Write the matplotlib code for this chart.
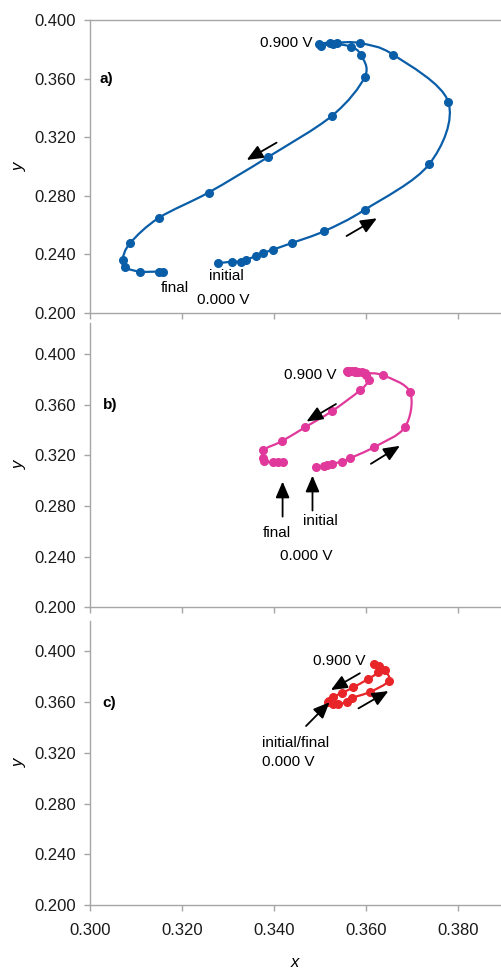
import numpy as np
import matplotlib
matplotlib.use("Agg")
import matplotlib.pyplot as plt
from matplotlib.path import Path
from matplotlib.patches import PathPatch

plt.rcParams['font.family'] = ['Liberation Sans', 'DejaVu Sans']

# ---------------- data ----------------
# panel a) (blue): forward scan then reverse scan
a_x = [0.3278, 0.3309, 0.3328, 0.3339, 0.3360, 0.3376, 0.3397, 0.3438, 0.3509, 0.3597,
       0.3737, 0.3778, 0.3659, 0.3586, 0.3536, 0.3520, 0.3498,
       0.3501, 0.3527, 0.3566, 0.3588, 0.3597, 0.3526, 0.3386, 0.3257, 0.3149,
       0.3087, 0.3070, 0.3076, 0.3108, 0.3149, 0.3159]
a_y = [0.2338, 0.2349, 0.2349, 0.2363, 0.2386, 0.2408, 0.2431, 0.2476, 0.2558, 0.2704,
       0.3016, 0.3442, 0.3762, 0.3842, 0.3846, 0.3846, 0.3837,
       0.3823, 0.3837, 0.3818, 0.3762, 0.3613, 0.3347, 0.3063, 0.2821, 0.2648,
       0.2477, 0.2363, 0.2309, 0.2281, 0.2281, 0.2281]

# panel b) (magenta)
b_x = [0.3490, 0.3507, 0.3515, 0.3525, 0.3547, 0.3565, 0.3617, 0.3684, 0.3695, 0.3637,
       0.3597, 0.3582, 0.3575, 0.3568, 0.3563, 0.3557,
       0.3560, 0.3575, 0.3590, 0.3600, 0.3606, 0.3586, 0.3525, 0.3467, 0.3416,
       0.3376, 0.3376, 0.3378, 0.3398, 0.3409, 0.3418]
b_y = [0.3107, 0.3117, 0.3125, 0.3133, 0.3151, 0.3178, 0.3265, 0.3423, 0.3700, 0.3831,
       0.3850, 0.3855, 0.3862, 0.3862, 0.3862, 0.3862,
       0.3858, 0.3860, 0.3855, 0.3835, 0.3795, 0.3712, 0.3548, 0.3422, 0.3311,
       0.3242, 0.3179, 0.3153, 0.3145, 0.3145, 0.3145]

# panel c) (red)
c_x = [0.3517, 0.3528, 0.3538, 0.3557, 0.3569, 0.3608, 0.3649, 0.3640, 0.3628, 0.3617,
       0.3625, 0.3604, 0.3571, 0.3547, 0.3528, 0.3519]
c_y = [0.3597, 0.3584, 0.3580, 0.3599, 0.3631, 0.3678, 0.3765, 0.3851, 0.3883, 0.3895,
       0.3835, 0.3780, 0.3713, 0.3670, 0.3639, 0.3607]

x_ticks = [0.300, 0.320, 0.340, 0.360, 0.380]
y_ticks = [0.200, 0.240, 0.280, 0.320, 0.360, 0.400]

colors = ['#0a5ea8', '#e0399b', '#e8262a']
AX_GRAY = '#a6a6a6'


def smooth_path(x, y, t=0.5):
    """Catmull-Rom style smoothing drawn as cubic Bezier segments by matplotlib."""
    p = np.column_stack([x, y])
    n = len(p)
    verts = [p[0]]
    codes = [Path.MOVETO]
    for i in range(n - 1):
        p0 = p[i - 1] if i > 0 else p[i]
        p1 = p[i]
        p2 = p[i + 1]
        p3 = p[i + 2] if i + 2 < n else p[i + 1]
        c1 = p1 + (p2 - p0) * t / 3.0
        c2 = p2 - (p3 - p1) * t / 3.0
        verts += [c1, c2, p2]
        codes += [Path.CURVE4] * 3
    return Path(verts, codes)


fig = plt.figure(figsize=(5.02, 9.72), dpi=100)
rects = [
    [0.1799, 0.6783, 0.8201, 0.3011],
    [0.1799, 0.37521, 0.8201, 0.29249],
    [0.1799, 0.06862, 0.8201, 0.29249],
]
ylims = [(0.200, 0.400), (0.200, 0.4245), (0.200, 0.4236)]
series = [(a_x, a_y), (b_x, b_y), (c_x, c_y)]
axes = []
for i in range(3):
    ax = fig.add_axes(rects[i])
    axes.append(ax)
    x, y = series[i]
    ax.add_patch(PathPatch(smooth_path(x, y), facecolor='none', edgecolor=colors[i],
                           lw=1.6, zorder=2))
    ax.plot(x, y, 'o', color=colors[i], ms=5.5, zorder=3)
    ax.set_xlim(0.300, 0.3895)
    ax.set_ylim(*ylims[i])
    ax.set_xticks(x_ticks)
    ax.set_yticks(y_ticks)
    ax.set_yticklabels([f'{v:.3f}' for v in y_ticks])
    if i == 2:
        ax.set_xticklabels([f'{v:.3f}' for v in x_ticks])
    else:
        ax.set_xticklabels([])
    ax.spines['right'].set_visible(False)
    ax.spines['top'].set_visible(i == 0)
    for s in ['left', 'bottom', 'top']:
        ax.spines[s].set_color(AX_GRAY)
        ax.spines[s].set_linewidth(1.0)
    ax.tick_params(axis='both', direction='out', length=4, width=1.0, color=AX_GRAY,
                   labelsize=12, labelcolor='#1a1a1a')
    ax.tick_params(axis='y', pad=6.5)
    ax.tick_params(axis='x', pad=9)
    ax.set_ylabel('y', fontsize=12, style='italic')
    ax.yaxis.label.set_va('center')
    ax.yaxis.set_label_coords(-0.172, 0.5)

ax_a, ax_b, ax_c = axes
fs = 11
arrow_kw = dict(arrowstyle='-|>,head_length=0.7,head_width=0.3', color='black',
                lw=1.3, mutation_scale=14, shrinkA=0, shrinkB=0)

# panel a
ax_a.text(0.3019, 0.360, 'a)', fontsize=fs, fontweight='bold', va='center', ha='left')
ax_a.text(0.3484, 0.3843, '0.900 V', fontsize=fs, va='center', ha='right')
ax_a.text(0.3154, 0.2171, 'final', fontsize=fs, va='center', ha='left')
ax_a.text(0.3257, 0.2251, 'initial', fontsize=fs, va='center', ha='left')
ax_a.text(0.3232, 0.2089, '0.000 V', fontsize=fs, va='center', ha='left')
ax_a.annotate('', xy=(0.3340, 0.3044), xytext=(0.3405, 0.3162), arrowprops=arrow_kw)
ax_a.annotate('', xy=(0.3623, 0.2645), xytext=(0.3557, 0.2524), arrowprops=arrow_kw)

# panel b
ax_b.text(0.3027, 0.3594, 'b)', fontsize=fs, fontweight='bold', va='center', ha='left')
ax_b.text(0.3536, 0.3836, '0.900 V', fontsize=fs, va='center', ha='right')
ax_b.text(0.3374, 0.2590, 'final', fontsize=fs, va='center', ha='left')
ax_b.text(0.3463, 0.2682, 'initial', fontsize=fs, va='center', ha='left')
ax_b.text(0.3412, 0.2406, '0.000 V', fontsize=fs, va='center', ha='left')
ax_b.annotate('', xy=(0.3470, 0.3467), xytext=(0.3534, 0.3605), arrowprops=arrow_kw)
ax_b.annotate('', xy=(0.3673, 0.3275), xytext=(0.3610, 0.3133), arrowprops=arrow_kw)
ax_b.annotate('', xy=(0.3418, 0.2993), xytext=(0.3418, 0.2716), arrowprops=arrow_kw)
ax_b.annotate('', xy=(0.3483, 0.3040), xytext=(0.3483, 0.2764), arrowprops=arrow_kw)

# panel c
ax_c.text(0.3027, 0.3589, 'c)', fontsize=fs, fontweight='bold', va='center', ha='left')
ax_c.text(0.3599, 0.3921, '0.900 V', fontsize=fs, va='center', ha='right')
ax_c.text(0.3374, 0.3274, 'initial/final', fontsize=fs, va='center', ha='left')
ax_c.text(0.3374, 0.3129, '0.000 V', fontsize=fs, va='center', ha='left')
ax_c.annotate('', xy=(0.3523, 0.3693), xytext=(0.3586, 0.3825), arrowprops=arrow_kw)
ax_c.annotate('', xy=(0.3648, 0.3685), xytext=(0.3583, 0.3549), arrowprops=arrow_kw)
ax_c.annotate('', xy=(0.3520, 0.3597), xytext=(0.3469, 0.3410), arrowprops=arrow_kw)

ax_c.set_xlabel('x', fontsize=12, style='italic')
ax_c.xaxis.label.set_va('center')
ax_c.xaxis.set_label_coords(0.497, -0.2)

fig.savefig('out.png', dpi=100)
